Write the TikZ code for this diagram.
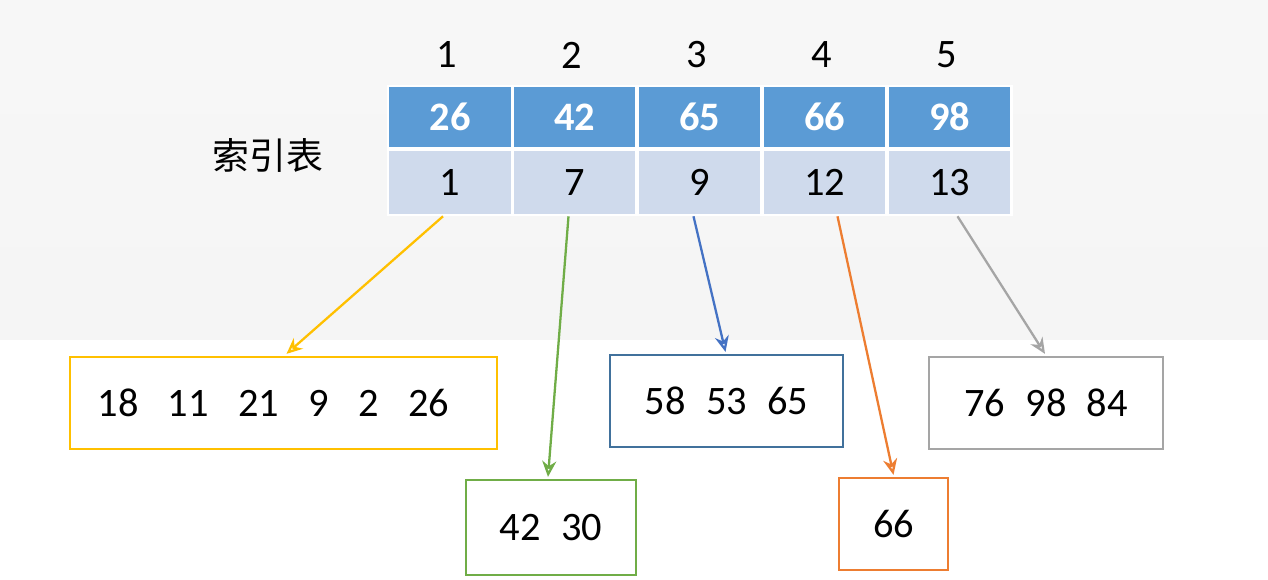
\documentclass[tikz,border=0pt]{standalone}
\usepackage{fontspec}
\setmainfont{Carlito}
\newfontfamily\cjk{Noto Sans CJK SC}
\usetikzlibrary{positioning, calc, arrows.meta}
\definecolor{darkcell}{HTML}{5B9BD5}
\definecolor{lightcell}{HTML}{CFDAEC}
\definecolor{cyellow}{HTML}{FFC000}
\definecolor{cgreen}{HTML}{70AD47}
\definecolor{cblue}{HTML}{4472C4}
\definecolor{corange}{HTML}{ED7D31}
\definecolor{cgray}{HTML}{A5A5A5}
\definecolor{cboxblue}{HTML}{41719C}
\tikzset{
  cell/.style={draw=white, line width=1.5pt, minimum width=2.48cm, inner sep=0pt, font=\fontsize{23}{27}\selectfont},
  block/.style={draw=#1, line width=1.3pt, fill=white, minimum height=1.84cm, inner sep=0pt, font=\fontsize{23}{27}\selectfont},
  link/.style={draw=#1, line width=1.3pt, -{Stealth[length=9pt, width=8pt, open]}}
}
\begin{document}
\begin{tikzpicture}[x=0.02cm, y=-0.02cm]
  \useasboundingbox[fill=white] (0,0) rectangle (1268,580);
  \shade[top color=black!3, bottom color=black!4] (0,0) rectangle (1268,340);
  % index table
  \foreach \k/\xc/\key/\pos in {1/450/26/1, 2/574.5/42/7, 3/699.5/65/9, 4/824.5/66/12, 5/949.5/98/13}{
    \node[cell, fill=darkcell, text=white, minimum height=1.24cm, font=\fontsize{23}{27}\selectfont\bfseries] (k\k) at (\xc,117) {\key};
    \node[cell, fill=lightcell, minimum height=1.3cm] (p\k) at (\xc,182.5) {\pos};
    \node[font=\fontsize{23}{27}\selectfont] (n\k) at (\xc-3,55) {\k};
  }
  \node[font=\cjk\fontsize{21}{24}\selectfont] (title) at (268,155) {索引表};
  % blocks
  \node[block=cyellow, minimum width=8.54cm] (b1) at (283.5,403) {18\enspace\ 11\enspace\ 21\enspace\ 9\enspace\ 2\enspace\ 26\enspace};
  \node[block=cgreen, minimum width=3.4cm, minimum height=1.9cm] (b2) at (551,527.5) {42\enspace 30};
  \node[block=cboxblue, minimum width=4.66cm] (b3) at (726.5,401) {58\enspace 53\enspace 65};
  \node[block=corange, minimum width=2.18cm] (b4) at (893.5,524) {66};
  \node[block=cgray, minimum width=4.68cm] (b5) at (1046,403) {76\enspace 98\enspace 84};
  % connections
  \draw[link=cyellow] ($(p1.south)+(-7,0)$) -- ($(b1.north)+(3,-2)$);
  \draw[link=cgreen] ($(p2.south)+(-6,0)$) -- ($(b2.north)+(-3,-2)$);
  \draw[link=cblue] ($(p3.south)+(-6,0)$) -- ($(b3.north)+(-1,-2)$);
  \draw[link=corange] ($(p4.south)+(13,0)$) -- ($(b4.north)+(0,-2)$);
  \draw[link=cgray] ($(p5.south)+(8,0)$) -- ($(b5.north)+(-1,-2)$);
\end{tikzpicture}
\end{document}
